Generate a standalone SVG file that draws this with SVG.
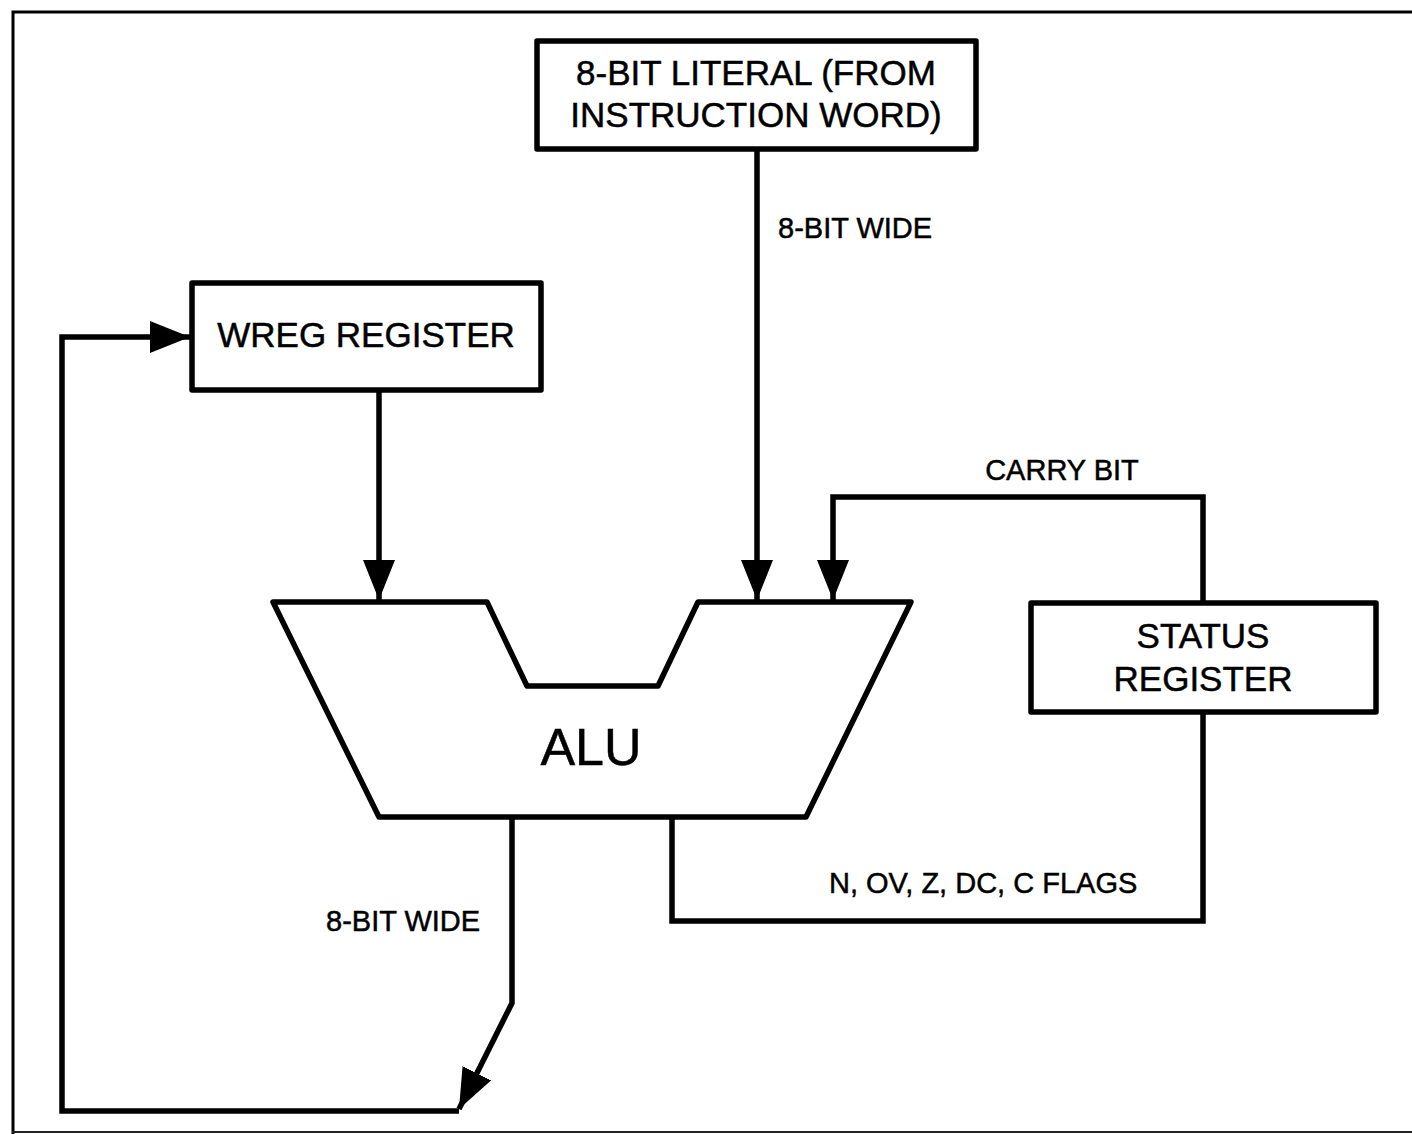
<svg xmlns="http://www.w3.org/2000/svg" width="1412" height="1134" viewBox="0 0 1412 1134">
<style>
.box{fill:#fff;stroke:#000;stroke-width:5.5;stroke-linejoin:round}
.wire{fill:none;stroke:#000;stroke-width:5.5;stroke-linejoin:miter}
.t{font-family:"Liberation Sans",Arial,sans-serif;fill:#000;stroke:#000;stroke-width:0.5}
.big{font-size:35px}
.small{font-size:29px}
</style>
<defs>
<marker id="ah" markerUnits="userSpaceOnUse" markerWidth="40" markerHeight="32" refX="40" refY="16" orient="auto">
<path d="M0,0 L40,16 L0,32 Z" fill="#000"/>
</marker>
</defs>
<rect x="0" y="0" width="1412" height="1134" fill="#fff"/>
<g id="frame">
<path d="M13,1134 L13,12 L1412,12" fill="none" stroke="#000" stroke-width="3"/>
<path d="M12,1132 L1412,1132" fill="none" stroke="#222" stroke-width="2"/>
</g>
<g id="connectors">
<path class="wire" d="M757,150 L757,600" marker-end="url(#ah)"/>
<path class="wire" d="M379,390 L379,600" marker-end="url(#ah)"/>
<path class="wire" d="M1203,603 L1203,497 L833,497 L833,600" marker-end="url(#ah)"/>
<path class="wire" d="M672,817 L672,921 L1203,921 L1203,712"/>
<path class="wire" d="M512,817 L512,1003 L459,1109" marker-end="url(#ah)"/>
<path class="wire" d="M459,1111 L62,1111 L62,337 L190,337" marker-end="url(#ah)"/>
</g>
<g id="literal">
<rect class="box" x="537" y="41" width="439" height="108"/>
<text class="t big" x="756" y="85" text-anchor="middle">8-BIT LITERAL (FROM</text>
<text class="t big" x="756" y="127" text-anchor="middle">INSTRUCTION WORD)</text>
</g>
<g id="wreg">
<rect class="box" x="192" y="283" width="349" height="107"/>
<text class="t big" x="366" y="347" text-anchor="middle">WREG REGISTER</text>
</g>
<g id="alu">
<polygon class="box" points="273,602 487,602 527,686 658,686 698,602 911,602 806,817 379,817"/>
<text class="t" x="591" y="765" font-size="52" text-anchor="middle">ALU</text>
</g>
<g id="status">
<rect class="box" x="1031" y="603" width="345" height="109"/>
<text class="t big" x="1203" y="648" text-anchor="middle">STATUS</text>
<text class="t big" x="1203" y="691" text-anchor="middle">REGISTER</text>
</g>
<g id="labels">
<text class="t small" x="778" y="238">8-BIT WIDE</text>
<text class="t small" x="1062" y="480" text-anchor="middle">CARRY BIT</text>
<text class="t small" x="829" y="893">N, OV, Z, DC, C FLAGS</text>
<text class="t small" x="326" y="931">8-BIT WIDE</text>
</g>
</svg>
